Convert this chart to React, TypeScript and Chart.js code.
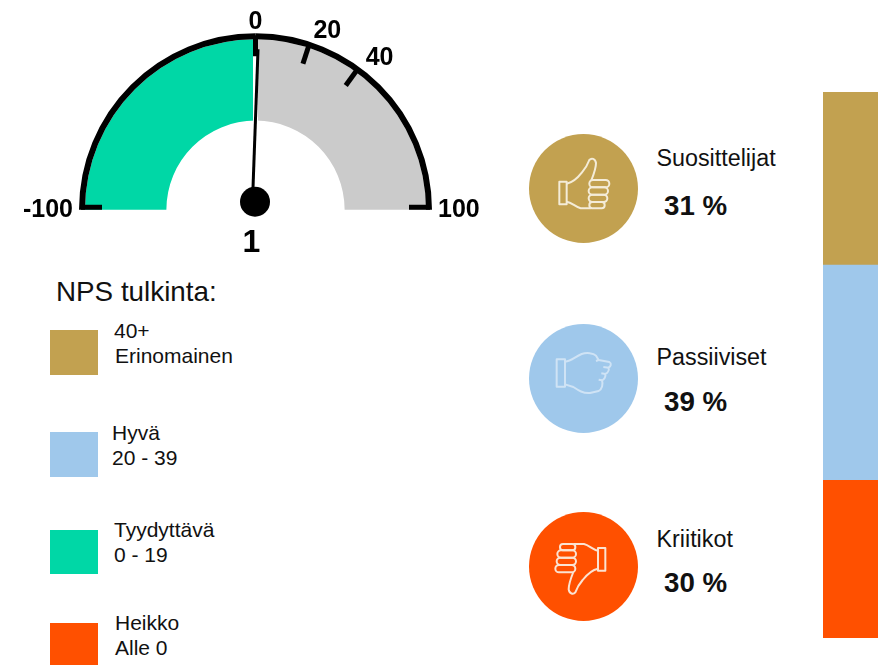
import React, { useEffect, useRef } from "react";
import { Chart, registerables } from "chart.js";

Chart.register(...registerables);

const FONT = '"Liberation Sans", Arial, sans-serif';
const TAN = "#C2A150";
const BLUE = "#9FC8EB";
const RED = "#FF5000";
const GREEN = "#00D7A6";
const GRAY = "#CBCBCB";

// gauge data
const gaugeValue = 1;
const gaugeSegments = [100, 100];
const gaugeTicks = [-100, 0, 20, 40, 100];

// stacked bar data
const barLabels = ["NPS"];
const promoterShare = [31.7];
const passiveShare = [39.4];
const detractorShare = [28.9];

// groups
const groupNames = ["Suosittelijat", "Passiiviset", "Kriitikot"];
const groupPercents = ["31 %", "39 %", "30 %"];

// legend
const legendTitle = "NPS tulkinta:";
const legendFirst = ["40+", "Hyvä", "Tyydyttävä", "Heikko"];
const legendSecond = ["Erinomainen", "20 - 39", "0 - 19", "Alle 0"];

const gaugeOverlay = {
  id: "gaugeOverlay",
  afterDatasetsDraw(chart: any) {
    const arc = chart.getDatasetMeta(0).data[0];
    const cx = arc.x;
    const cy = arc.y;
    const R = arc.outerRadius;
    const ctx = chart.ctx;
    const polar = (v: number, r: number) => {
      const t = (v * 0.9 * Math.PI) / 180;
      return { x: cx + r * Math.sin(t), y: cy - r * Math.cos(t) };
    };
    ctx.save();
    // white slit between the two segments
    ctx.fillStyle = "#fff";
    ctx.fillRect(cx - 2.5, cy - R + 5, 5, R - 93);

    // ticks
    ctx.strokeStyle = "#000";
    ctx.lineWidth = 5;
    ctx.lineCap = "butt";
    for (const v of gaugeTicks) {
      const a = polar(v, R - 2);
      const b = polar(v, R - 23);
      const dy = Math.abs(v) === 100 ? -2.5 : 0;
      ctx.beginPath();
      ctx.moveTo(a.x, a.y + dy);
      ctx.lineTo(b.x, b.y + dy);
      ctx.stroke();
    }

    // needle
    const tip = polar(gaugeValue, R - 16);
    ctx.lineWidth = 3;
    ctx.beginPath();
    ctx.moveTo(cx - 3, cy - 8);
    ctx.lineTo(tip.x, tip.y);
    ctx.stroke();
    ctx.fillStyle = "#000";
    ctx.beginPath();
    ctx.arc(cx - 0.5, cy - 8, 15, 0, Math.PI * 2);
    ctx.fill();

    // tick labels
    ctx.font = `bold 25px ${FONT}`;
    ctx.textBaseline = "middle";
    for (const v of gaugeTicks) {
      const p = polar(v, Math.abs(v) === 100 ? R + 6 : R + 11);
      ctx.textAlign = v > 0 ? "left" : v < 0 ? "right" : "center";
      ctx.fillText(String(v), p.x, p.y);
    }

    // value
    ctx.font = `bold 32px ${FONT}`;
    ctx.textAlign = "center";
    ctx.textBaseline = "alphabetic";
    ctx.fillText(String(gaugeValue), cx - 4, cy + 42);
    ctx.restore();
  },
};

function Txt({ x, base, size, bold, children }: any) {
  return (
    <div
      style={{
        position: "absolute",
        left: x,
        top: base - 0.83 * size,
        fontFamily: FONT,
        fontSize: size,
        lineHeight: 1,
        fontWeight: bold ? 700 : 400,
        color: "#111",
        whiteSpace: "pre",
      }}
    >
      {children}
    </div>
  );
}

function Swatch({ y, h, color }: any) {
  return <div style={{ position: "absolute", left: 50, top: y, width: 48, height: h, background: color }} />;
}

const thumbPaths = (
  <>
    <rect x="118" y="170" width="22" height="68" />
    <path d="M140 176 C160 172 172 160 186 142 C198 128 204 116 208 105 C214 98 226 100 228 114 C228 130 222 146 214 166" />
    <path d="M140 230 C155 232 166 246 182 250 L214 250" />
    <rect x="208" y="165" width="60" height="22" rx="11" />
    <rect x="206" y="187" width="58" height="22" rx="11" />
    <rect x="206" y="209" width="56" height="22" rx="11" />
    <rect x="208" y="231" width="46" height="19" rx="9" />
  </>
);

const fistPaths = (
  <>
    <rect x="110" y="133" width="25" height="82" />
    <path d="M135 140 C155 138 165 125 185 117 C200 112 220 114 228 122 L236 135 L268 141 C276 146 272 154 266 158 C268 166 262 174 256 177 C258 186 252 194 246 196 C250 208 246 222 236 228 L210 234 C190 236 175 226 160 216 L135 208" />
    <path d="M236 135 L228 138 M266 158 L250 156 M256 177 L244 175 M246 196 L236 194" />
  </>
);

function Icon({ cy, stroke, kind, width }: any) {
  return (
    <svg
      width={130}
      height={125}
      viewBox="0 0 390 375"
      style={{ position: "absolute", left: 520, top: cy - 62.5 }}
    >
      <g fill="none" stroke={stroke} strokeWidth={width} strokeLinejoin="round">
        {kind === "up" && thumbPaths}
        {kind === "mid" && <g transform="translate(0 -15)">{fistPaths}</g>}
        {kind === "down" && <g transform="rotate(180 187 191)">{thumbPaths}</g>}
      </g>
    </svg>
  );
}

function Circle({ cy, color }: any) {
  return (
    <div
      style={{
        position: "absolute",
        left: 583 - 54.5,
        top: cy - 54.5,
        width: 109,
        height: 109,
        borderRadius: "50%",
        background: color,
      }}
    />
  );
}

export default function App() {
  const gaugeRef = useRef<HTMLCanvasElement>(null);
  const barRef = useRef<HTMLCanvasElement>(null);

  useEffect(() => {
    document.body.style.margin = "0";
    const gauge = new Chart(gaugeRef.current!, {
      type: "doughnut",
      data: {
        labels: ["Negatiivinen", "Positiivinen"],
        datasets: [
          { data: gaugeSegments, backgroundColor: ["#000", "#000"], borderWidth: 0, weight: 6 },
          { data: gaugeSegments, backgroundColor: [GREEN, GRAY], borderWidth: 0, weight: 81 },
        ],
      },
      options: {
        responsive: false,
        animation: false,
        rotation: -90,
        circumference: 180,
        cutout: "50.5%",
        layout: { padding: { left: 79, right: 88, top: 33, bottom: 55 } },
        events: [],
        plugins: { legend: { display: false }, tooltip: { enabled: false } },
      },
      plugins: [gaugeOverlay],
    } as any);

    const bar = new Chart(barRef.current!, {
      type: "bar",
      data: {
        labels: barLabels,
        datasets: [
          { label: "Kriitikot", data: detractorShare, backgroundColor: RED },
          { label: "Passiiviset", data: passiveShare, backgroundColor: BLUE },
          { label: "Suosittelijat", data: promoterShare, backgroundColor: TAN },
        ],
      },
      options: {
        responsive: false,
        animation: false,
        events: [],
        datasets: { bar: { barPercentage: 1, categoryPercentage: 1, borderWidth: 0 } },
        scales: {
          x: { stacked: true, display: false },
          y: { stacked: true, display: false, min: 0, max: 100 },
        },
        plugins: { legend: { display: false }, tooltip: { enabled: false } },
      },
    } as any);

    return () => {
      gauge.destroy();
      bar.destroy();
    };
  }, []);

  return (
    <div style={{ position: "absolute", left: 0, top: 0, width: 886, height: 665, overflow: "hidden", background: "#fff" }}>
      <canvas ref={gaugeRef} width={520} height={265} style={{ position: "absolute", left: 0, top: 0 }} />
      <canvas ref={barRef} width={55} height={546} style={{ position: "absolute", left: 823, top: 92 }} />

      <Txt x={56} base={301} size={27.8}>{legendTitle}</Txt>
      <Swatch y={330} h={45} color={TAN} />
      <Swatch y={432} h={45} color={BLUE} />
      <Swatch y={530} h={44} color={GREEN} />
      <Swatch y={623} h={42} color={RED} />
      <Txt x={114} base={337} size={21}>{legendFirst[0]}</Txt>
      <Txt x={115} base={362} size={21}>{legendSecond[0]}</Txt>
      <Txt x={112} base={439} size={21}>{legendFirst[1]}</Txt>
      <Txt x={112} base={464} size={21}>{legendSecond[1]}</Txt>
      <Txt x={114} base={536} size={21}>{legendFirst[2]}</Txt>
      <Txt x={114} base={561} size={21}>{legendSecond[2]}</Txt>
      <Txt x={115} base={629} size={21}>{legendFirst[3]}</Txt>
      <Txt x={115} base={654} size={21}>{legendSecond[3]}</Txt>

      <Circle cy={188} color={TAN} />
      <Circle cy={378} color={BLUE} />
      <Circle cy={566} color={RED} />
      <Icon cy={187.5} stroke="#F4ECD8" kind="up" width={6} />
      <Icon cy={382.5} stroke="#CFE3F5" kind="mid" width={6} />
      <Icon cy={562.5} stroke="#FBE3D2" kind="down" width={6} />

      <Txt x={656.5} base={166} size={23.3}>{groupNames[0]}</Txt>
      <Txt x={664} base={215} size={27.7} bold>{groupPercents[0]}</Txt>
      <Txt x={656.5} base={365} size={23.3}>{groupNames[1]}</Txt>
      <Txt x={664} base={411} size={27.7} bold>{groupPercents[1]}</Txt>
      <Txt x={656.5} base={547} size={23.3}>{groupNames[2]}</Txt>
      <Txt x={664} base={592} size={27.7} bold>{groupPercents[2]}</Txt>
    </div>
  );
}
